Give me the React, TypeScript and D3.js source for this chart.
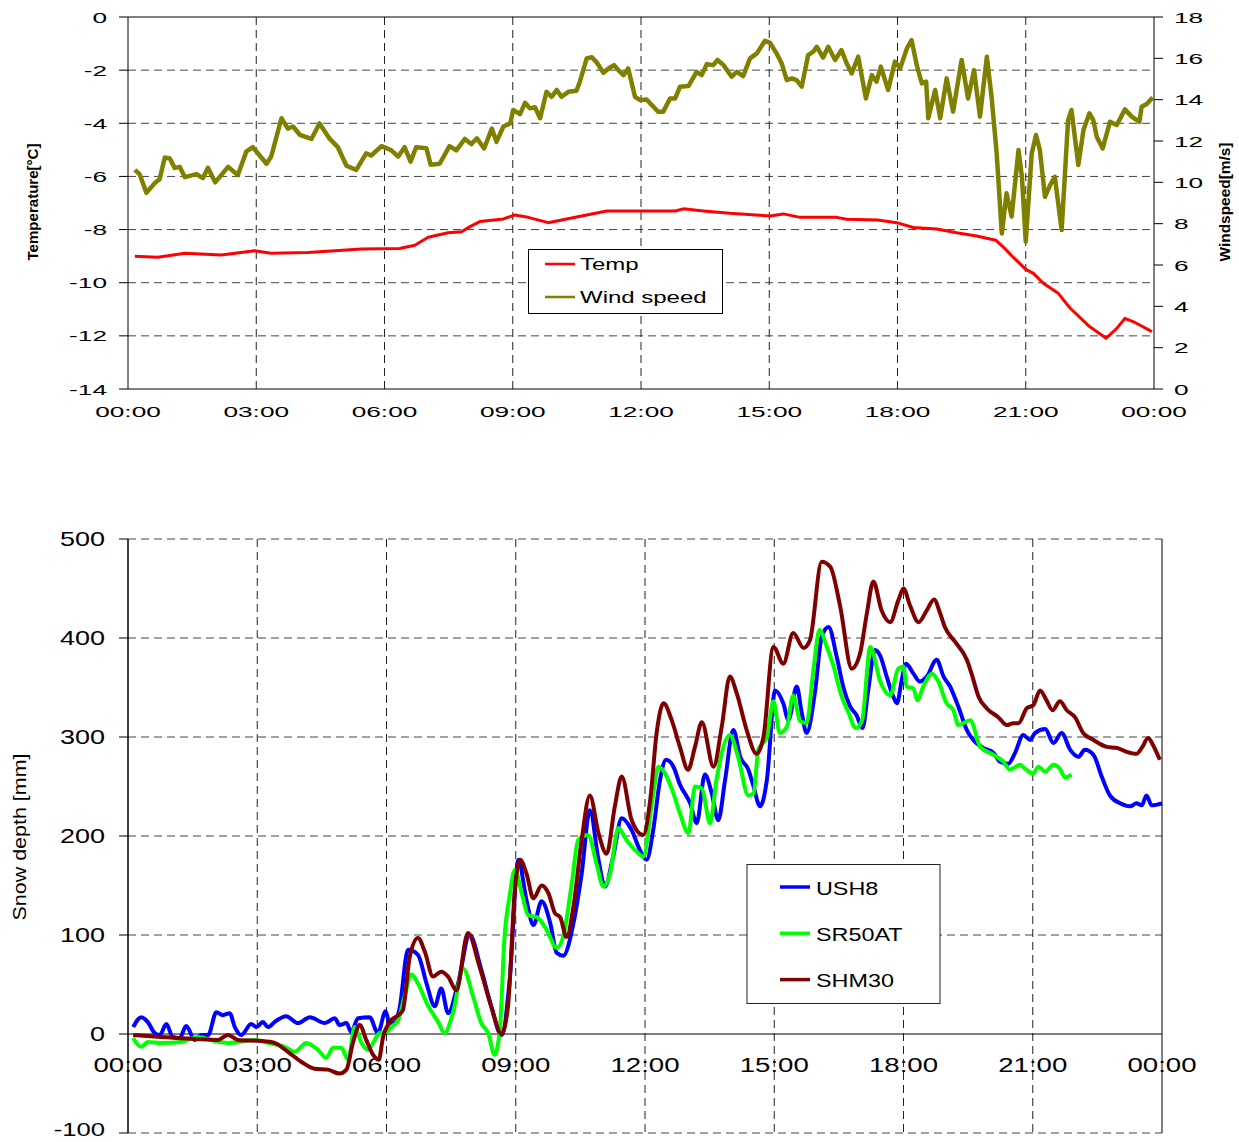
import React, { useEffect, useRef } from 'react';
import * as d3 from 'd3';

// time in hours since 00:00, value
const temperature: [number, number][] = [
  [0.16, -9.0], [0.7, -9.04], [1.33, -8.89], [2.18, -8.96], [2.96, -8.8], [3.35, -8.89],
  [4.21, -8.86], [5.46, -8.73], [6.35, -8.71], [6.71, -8.59], [7.02, -8.29], [7.49, -8.12],
  [7.8, -8.08], [8.0, -7.89], [8.23, -7.7], [8.78, -7.6], [9.05, -7.45], [9.36, -7.54],
  [9.83, -7.74], [10.26, -7.6], [10.73, -7.45], [11.2, -7.3], [12.8, -7.3], [12.99, -7.22],
  [13.46, -7.3], [14.08, -7.39], [15.02, -7.49], [15.33, -7.41], [15.72, -7.54], [16.58, -7.54],
  [16.81, -7.61], [17.54, -7.64], [17.98, -7.74], [18.37, -7.92], [18.92, -7.98], [19.38, -8.12],
  [19.85, -8.24], [20.3, -8.4], [20.5, -8.7], [20.7, -9.03], [21.0, -9.5], [21.18, -9.65],
  [21.41, -10.02], [21.76, -10.4], [22.04, -10.96], [22.5, -11.66], [22.88, -12.09], [23.13, -11.72],
  [23.32, -11.34], [23.52, -11.47], [23.71, -11.63], [23.95, -11.84],
];

const windSpeed: [number, number][] = [
  [0.16, 10.6], [0.27, 10.4], [0.43, 9.5], [0.62, 9.95], [0.74, 10.15], [0.86, 11.2], [0.98, 11.15],
  [1.09, 10.7], [1.21, 10.75], [1.33, 10.25], [1.6, 10.4], [1.75, 10.2], [1.87, 10.7], [2.04, 10.0],
  [2.34, 10.75], [2.57, 10.35], [2.77, 11.5], [2.92, 11.7], [3.08, 11.3], [3.24, 10.9], [3.35, 11.25],
  [3.59, 13.1], [3.74, 12.6], [3.86, 12.7], [4.02, 12.3], [4.29, 12.1], [4.48, 12.85], [4.72, 12.1],
  [4.91, 11.7], [5.11, 10.8], [5.34, 10.6], [5.57, 11.4], [5.69, 11.3], [5.93, 11.75], [6.16, 11.55],
  [6.32, 11.25], [6.47, 11.7], [6.61, 11.0], [6.74, 11.7], [6.98, 11.65], [7.08, 10.85], [7.29, 10.9],
  [7.52, 11.75], [7.68, 11.55], [7.88, 12.1], [8.03, 11.85], [8.16, 12.13], [8.33, 11.64], [8.51, 12.6],
  [8.62, 11.96], [8.78, 12.7], [8.94, 12.85], [9.01, 13.5], [9.17, 13.3], [9.29, 13.85], [9.4, 13.58],
  [9.52, 13.63], [9.64, 13.1], [9.79, 14.38], [9.91, 14.14], [10.03, 14.47], [10.14, 14.14], [10.3, 14.38],
  [10.49, 14.43], [10.57, 14.87], [10.73, 16.0], [10.85, 16.05], [10.97, 15.79], [11.12, 15.3],
  [11.24, 15.51], [11.37, 15.67], [11.47, 15.43], [11.59, 15.19], [11.7, 15.51], [11.86, 14.14],
  [11.98, 13.98], [12.13, 14.01], [12.29, 13.66], [12.4, 13.42], [12.52, 13.42], [12.68, 14.06],
  [12.8, 14.06], [12.91, 14.62], [13.11, 14.66], [13.3, 15.35], [13.42, 15.19], [13.54, 15.72],
  [13.69, 15.67], [13.79, 15.92], [13.93, 15.67], [14.12, 15.11], [14.24, 15.35], [14.39, 15.14],
  [14.55, 16.0], [14.71, 16.24], [14.9, 16.85], [15.02, 16.75], [15.17, 16.24], [15.29, 15.76],
  [15.41, 14.95], [15.53, 15.03], [15.64, 14.95], [15.76, 14.63], [15.91, 16.16], [16.03, 16.32],
  [16.11, 16.56], [16.26, 16.04], [16.38, 16.56], [16.54, 15.92], [16.69, 16.4], [16.81, 15.76],
  [16.93, 15.27], [17.08, 16.08], [17.26, 14.06], [17.4, 15.19], [17.51, 14.87], [17.61, 15.6],
  [17.78, 14.47], [17.94, 15.84], [18.06, 15.51], [18.22, 16.48], [18.33, 16.88], [18.45, 15.67],
  [18.57, 14.79], [18.67, 14.87], [18.72, 13.1], [18.88, 14.47], [19.0, 13.1], [19.15, 15.03],
  [19.3, 13.42], [19.5, 15.92], [19.65, 14.06], [19.79, 15.43], [19.93, 13.18], [20.09, 16.08],
  [20.2, 14.14], [20.32, 11.4], [20.44, 7.53], [20.55, 9.47], [20.67, 8.34], [20.83, 11.56],
  [20.91, 10.27], [21.0, 7.13], [21.14, 11.4], [21.24, 12.29], [21.33, 11.56], [21.45, 9.3],
  [21.57, 9.87], [21.68, 10.27], [21.84, 7.69], [21.99, 13.01], [22.07, 13.5], [22.23, 10.84],
  [22.35, 12.53], [22.49, 13.34], [22.58, 13.01], [22.66, 12.21], [22.8, 11.64], [22.97, 12.93],
  [23.13, 12.77], [23.32, 13.53], [23.48, 13.18], [23.66, 12.93], [23.71, 13.66], [23.83, 13.79],
  [23.97, 14.11],
];

const ush8: [number, number][] = [
  [0.12, 7], [0.31, 17], [0.46, 12], [0.62, 1], [0.74, -1], [0.89, 10], [1.04, -3], [1.2, -4],
  [1.35, 8], [1.55, -6], [1.7, -1], [1.86, -1], [2.05, 22], [2.2, 19], [2.36, 21], [2.48, 7],
  [2.63, -1], [2.86, 10], [2.98, 7], [3.13, 12], [3.25, 7], [3.4, 12], [3.67, 18], [3.95, 11],
  [4.22, 17], [4.57, 11], [4.8, 16], [4.91, 9], [5.07, 11], [5.18, 2], [5.34, 16], [5.61, 17],
  [5.8, 1], [5.98, 23], [6.07, 11], [6.19, 11], [6.3, 25], [6.5, 85], [6.73, 80], [6.93, 51],
  [7.12, 28], [7.27, 46], [7.43, 21], [7.66, 51], [7.93, 100], [8.2, 65], [8.43, 28], [8.67, -1],
  [8.86, 55], [9.06, 176], [9.25, 135], [9.41, 110], [9.6, 134], [9.8, 112], [9.95, 82], [10.1, 79],
  [10.34, 112], [10.53, 162], [10.72, 226], [10.92, 176], [11.07, 149], [11.26, 179], [11.46, 218],
  [11.69, 206], [11.88, 186], [12.04, 176], [12.19, 206], [12.35, 257], [12.49, 277], [12.66, 270],
  [12.81, 252], [13.05, 233], [13.2, 213], [13.39, 262], [13.55, 243], [13.7, 216], [13.86, 257],
  [14.05, 307], [14.21, 280], [14.4, 267], [14.52, 250], [14.67, 230], [14.83, 257], [15.02, 347],
  [15.21, 334], [15.33, 317], [15.52, 351], [15.64, 324], [15.75, 304], [15.95, 347], [16.1, 401],
  [16.26, 411], [16.45, 381], [16.6, 351], [16.76, 331], [16.91, 322], [17.05, 309], [17.18, 347],
  [17.34, 388], [17.46, 382], [17.61, 361], [17.76, 341], [17.85, 334], [17.96, 358], [18.06, 374],
  [18.23, 364], [18.38, 356], [18.54, 361], [18.77, 378], [18.93, 361], [19.08, 351], [19.27, 331],
  [19.47, 307], [19.62, 297], [19.85, 289], [20.09, 284], [20.24, 275], [20.43, 273], [20.59, 284],
  [20.78, 302], [20.94, 297], [21.05, 304], [21.29, 308], [21.48, 294], [21.67, 304], [21.87, 287],
  [22.06, 280], [22.21, 287], [22.41, 282], [22.6, 260], [22.79, 241], [23.03, 233], [23.26, 230],
  [23.41, 233], [23.53, 231], [23.64, 241], [23.76, 231], [24.0, 233],
];

const sr50at: [number, number][] = [
  [0.12, -4], [0.31, -13], [0.46, -8], [0.77, -9], [1.24, -8], [1.62, -3], [2.01, -7], [2.32, -9],
  [2.94, -6], [3.25, -9], [3.64, -13], [3.87, -18], [4.14, -9], [4.41, -16], [4.6, -24], [4.76, -14],
  [4.95, -14], [5.11, -26], [5.26, 7], [5.42, -9], [5.57, -16], [5.69, -9], [5.84, 1], [6.0, 2],
  [6.11, 7], [6.27, 14], [6.42, 38], [6.58, 60], [6.73, 51], [6.96, 29], [7.2, 12], [7.35, 1],
  [7.54, 21], [7.78, 66], [8.01, 38], [8.2, 11], [8.36, 1], [8.51, -21], [8.63, 4], [8.74, 98],
  [8.86, 140], [8.98, 166], [9.14, 142], [9.29, 120], [9.49, 118], [9.72, 105], [9.95, 87], [10.1, 98],
  [10.3, 152], [10.45, 196], [10.68, 201], [10.88, 171], [11.03, 149], [11.19, 162], [11.38, 208],
  [11.57, 196], [11.81, 184], [11.96, 179], [12.16, 233], [12.31, 270], [12.47, 263], [12.66, 243],
  [12.81, 223], [13.01, 203], [13.16, 250], [13.32, 248], [13.51, 213], [13.66, 257], [13.97, 302],
  [14.16, 280], [14.4, 241], [14.52, 243], [14.63, 287], [14.83, 300], [14.98, 336], [15.13, 304],
  [15.29, 310], [15.44, 342], [15.6, 316], [15.75, 314], [15.91, 368], [16.05, 408], [16.22, 391],
  [16.38, 371], [16.54, 344], [16.73, 324], [16.89, 309], [17.04, 317], [17.23, 391], [17.46, 356],
  [17.69, 342], [17.88, 369], [18.0, 371], [18.07, 351], [18.23, 349], [18.32, 337], [18.46, 351],
  [18.66, 364], [18.81, 356], [19.0, 334], [19.16, 327], [19.27, 312], [19.55, 317], [19.78, 290],
  [20.09, 282], [20.32, 275], [20.47, 267], [20.71, 272], [20.82, 268], [21.01, 263], [21.13, 270],
  [21.29, 265], [21.48, 272], [21.63, 268], [21.75, 259], [21.9, 262],
];

const shm30: [number, number][] = [
  [0.12, -1], [0.77, -3], [1.55, -5], [2.09, -6], [2.32, -1], [2.55, -6], [3.09, -7], [3.4, -9],
  [3.71, -18], [4.02, -28], [4.33, -35], [4.64, -36], [4.91, -40], [5.07, -36], [5.22, -9], [5.38, 9],
  [5.53, -6], [5.69, -21], [5.82, -26], [5.92, -3], [6.07, 12], [6.27, 19], [6.38, 24], [6.54, 78],
  [6.73, 97], [6.89, 83], [7.08, 58], [7.27, 63], [7.43, 58], [7.62, 44], [7.89, 102], [8.16, 68],
  [8.43, 28], [8.67, 0], [8.82, 28], [8.98, 146], [9.1, 176], [9.25, 162], [9.41, 137], [9.6, 150],
  [9.76, 142], [9.91, 122], [10.03, 118], [10.18, 98], [10.34, 129], [10.53, 196], [10.72, 241],
  [10.92, 203], [11.11, 182], [11.3, 230], [11.46, 260], [11.69, 216], [11.96, 201], [12.12, 236],
  [12.27, 304], [12.43, 334], [12.62, 317], [12.81, 290], [13.0, 267], [13.16, 290], [13.32, 315],
  [13.59, 270], [13.78, 310], [13.97, 361], [14.13, 344], [14.36, 307], [14.59, 283], [14.75, 300],
  [14.98, 391], [15.21, 374], [15.44, 405], [15.68, 390], [15.83, 398], [16.1, 477], [16.3, 472],
  [16.53, 432], [16.8, 369], [16.99, 384], [17.15, 425], [17.3, 457], [17.49, 428], [17.69, 416],
  [17.88, 438], [18.0, 450], [18.15, 433], [18.35, 416], [18.54, 428], [18.71, 439], [18.85, 425],
  [18.96, 411], [19.2, 396], [19.47, 378], [19.58, 364], [19.74, 341], [19.93, 329], [20.2, 320],
  [20.4, 312], [20.55, 314], [20.67, 314], [20.86, 329], [21.01, 332], [21.17, 347], [21.32, 337],
  [21.46, 327], [21.63, 336], [21.79, 327], [21.98, 320], [22.17, 304], [22.41, 297], [22.72, 290],
  [22.95, 289], [23.18, 285], [23.41, 283], [23.53, 289], [23.68, 299], [23.79, 292], [23.95, 277],
];

const hourTicks = [0, 3, 6, 9, 12, 15, 18, 21, 24];
const tempTicks = [0, -2, -4, -6, -8, -10, -12, -14];
const windTicks = [0, 2, 4, 6, 8, 10, 12, 14, 16, 18];
const depthTicks = [-100, 0, 100, 200, 300, 400, 500];

const FONT = '"Liberation Sans", Arial, sans-serif';
const hourLabel = (h: number) => `${String(h % 24).padStart(2, '0')}:00`;

const App = () => {
  const ref = useRef<SVGSVGElement>(null);

  useEffect(() => {
    const svg = d3.select(ref.current);
    svg.selectAll('*').remove();

    // stretched text, like the original (drawn wide)
    const label = (g: any, x: number, y: number, s: string, size: number, sx: number, anchor: string) =>
      g.append('text')
        .attr('transform', `translate(${x},${y}) scale(${sx},1)`)
        .attr('text-anchor', anchor)
        .attr('font-family', FONT)
        .attr('font-size', size)
        .attr('fill', '#000')
        .text(s);

    // ---------- top chart ----------
    const top = { left: 128, right: 1154, top: 17, bottom: 389 };
    const x1 = d3.scaleLinear().domain([0, 24]).range([top.left, top.right]);
    const yT = d3.scaleLinear().domain([-14, 0]).range([top.bottom, top.top]);
    const yW = d3.scaleLinear().domain([0, 18]).range([top.bottom, top.top]);

    const g1 = svg.append('g');
    g1.selectAll('line.hg').data(tempTicks.filter(t => t !== 0 && t !== -14)).join('line')
      .attr('x1', top.left).attr('x2', top.right)
      .attr('y1', d => yT(d)).attr('y2', d => yT(d))
      .attr('stroke', '#444').attr('stroke-dasharray', '8,5');
    g1.selectAll('line.vg').data(hourTicks.filter(h => h > 0 && h < 24)).join('line')
      .attr('x1', d => x1(d)).attr('x2', d => x1(d))
      .attr('y1', top.top).attr('y2', top.bottom)
      .attr('stroke', '#222').attr('stroke-dasharray', '8,5');

    // frame
    g1.append('line').attr('x1', top.left).attr('x2', top.right).attr('y1', top.top).attr('y2', top.top).attr('stroke', '#000');
    g1.append('line').attr('x1', top.left).attr('x2', top.right).attr('y1', top.bottom).attr('y2', top.bottom).attr('stroke', '#000');
    g1.append('line').attr('x1', top.left).attr('x2', top.left).attr('y1', top.top).attr('y2', top.bottom).attr('stroke', '#000');
    g1.append('line').attr('x1', top.right).attr('x2', top.right).attr('y1', top.top).attr('y2', top.bottom).attr('stroke', '#000');

    tempTicks.forEach(t => {
      g1.append('line').attr('x1', top.left - 9).attr('x2', top.left).attr('y1', yT(t)).attr('y2', yT(t)).attr('stroke', '#000');
      label(g1, 107, yT(t) + 5.5, String(t), 15, 1.75, 'end');
    });
    windTicks.forEach(w => {
      g1.append('line').attr('x1', top.right).attr('x2', top.right + 9).attr('y1', yW(w)).attr('y2', yW(w)).attr('stroke', '#000');
      label(g1, 1174, yW(w) + 5.5, String(w), 15, 1.75, 'start');
    });
    hourTicks.forEach(h => label(g1, x1(h), 416.5, hourLabel(h), 15, 1.75, 'middle'));

    g1.append('text')
      .attr('transform', `translate(33,202) rotate(-90)`)
      .attr('text-anchor', 'middle').attr('dy', '0.35em')
      .attr('font-family', FONT).attr('font-size', 15).attr('font-weight', 'bold')
      .attr('textLength', 117).attr('lengthAdjust', 'spacingAndGlyphs')
      .text('Temperature[°C]');
    g1.append('text')
      .attr('transform', `translate(1225,202) rotate(-90)`)
      .attr('text-anchor', 'middle').attr('dy', '0.35em')
      .attr('font-family', FONT).attr('font-size', 15).attr('font-weight', 'bold')
      .attr('textLength', 119).attr('lengthAdjust', 'spacingAndGlyphs')
      .text('Windspeed[m/s]');

    const windLine = d3.line<[number, number]>().x(d => x1(d[0])).y(d => yW(d[1]));
    const tempLine = d3.line<[number, number]>().x(d => x1(d[0])).y(d => yT(d[1]));
    g1.append('path').datum(windSpeed).attr('d', windLine)
      .attr('fill', 'none').attr('stroke', '#808000').attr('stroke-width', 4.5).attr('stroke-linejoin', 'round');
    g1.append('path').datum(temperature).attr('d', tempLine)
      .attr('fill', 'none').attr('stroke', '#FF0000').attr('stroke-width', 3).attr('stroke-linejoin', 'round');

    // legend top
    g1.append('rect').attr('x', 528.5).attr('y', 249.5).attr('width', 194).attr('height', 64)
      .attr('fill', '#fff').attr('stroke', '#000');
    [['Temp', '#FF0000', 264], ['Wind speed', '#808000', 297]].forEach(([name, col, yy]: any) => {
      g1.append('line').attr('x1', 545).attr('x2', 575).attr('y1', yy).attr('y2', yy)
        .attr('stroke', col).attr('stroke-width', 2.5);
      label(g1, 580, yy + 5.5, name, 16, 1.5, 'start');
    });

    // ---------- bottom chart ----------
    const bot = { left: 128, right: 1162, top: 539, bottom: 1133 };
    const x2 = d3.scaleLinear().domain([0, 24]).range([bot.left, bot.right]);
    const yD = d3.scaleLinear().domain([-100, 500]).range([bot.bottom, bot.top]);

    const g2 = svg.append('g');
    g2.selectAll('line.hg').data(depthTicks.filter(d => d !== 0)).join('line')
      .attr('x1', bot.left).attr('x2', bot.right)
      .attr('y1', d => yD(d)).attr('y2', d => yD(d))
      .attr('stroke', '#444').attr('stroke-dasharray', '8,5');
    g2.selectAll('line.vg').data(hourTicks.filter(h => h > 0 && h < 24)).join('line')
      .attr('x1', d => x2(d)).attr('x2', d => x2(d))
      .attr('y1', bot.top).attr('y2', bot.bottom)
      .attr('stroke', '#222').attr('stroke-dasharray', '8,5');
    g2.append('line').attr('x1', bot.left).attr('x2', bot.left).attr('y1', bot.top).attr('y2', bot.bottom).attr('stroke', '#000').attr('stroke-width', 1.5);
    g2.append('line').attr('x1', bot.right).attr('x2', bot.right).attr('y1', bot.top).attr('y2', bot.bottom).attr('stroke', '#000');
    g2.append('line').attr('x1', bot.left).attr('x2', bot.right).attr('y1', yD(0)).attr('y2', yD(0)).attr('stroke', '#000');

    depthTicks.forEach(d => {
      g2.append('line').attr('x1', bot.left - 9).attr('x2', bot.left).attr('y1', yD(d)).attr('y2', yD(d)).attr('stroke', '#000');
      // lowest label sits at the picture's edge; keep it inside
      label(g2, 105, Math.min(yD(d) + 7, 1136), String(d), d === -100 ? 19 : 20, 1.35, 'end');
    });
    hourTicks.forEach(h => label(g2, x2(h), 1072, hourLabel(h), 20, 1.38, 'middle'));

    g2.append('text')
      .attr('transform', `translate(19,837) rotate(-90)`)
      .attr('text-anchor', 'middle').attr('dy', '0.35em')
      .attr('font-family', FONT).attr('font-size', 19)
      .attr('textLength', 167).attr('lengthAdjust', 'spacingAndGlyphs')
      .text('Snow depth [mm]');

    const depthLine = d3.line<[number, number]>().x(d => x2(d[0])).y(d => yD(d[1])).curve(d3.curveMonotoneX);
    const series: [string, string, [number, number][]][] = [
      ['USH8', '#0000FF', ush8],
      ['SR50AT', '#00FF00', sr50at],
      ['SHM30', '#800000', shm30],
    ];
    series.forEach(([, col, data]) => {
      g2.append('path').datum(data).attr('d', depthLine)
        .attr('fill', 'none').attr('stroke', col).attr('stroke-width', 4).attr('stroke-linejoin', 'round');
    });

    g2.append('rect').attr('x', 747).attr('y', 864.5).attr('width', 193).attr('height', 139)
      .attr('fill', '#fff').attr('stroke', '#222');
    series.forEach(([name, col], i) => {
      const yy = 887 + i * 46.3;
      g2.append('line').attr('x1', 780).attr('x2', 810).attr('y1', yy).attr('y2', yy)
        .attr('stroke', col).attr('stroke-width', 3.5);
      label(g2, 816, yy + 7.5, name, 19, 1.23, 'start');
    });
  }, []);

  return (
    <svg ref={ref} width={1239} height={1142}
      style={{ position: 'absolute', left: 0, top: 0, background: '#fff' }} />
  );
};

export default App;
